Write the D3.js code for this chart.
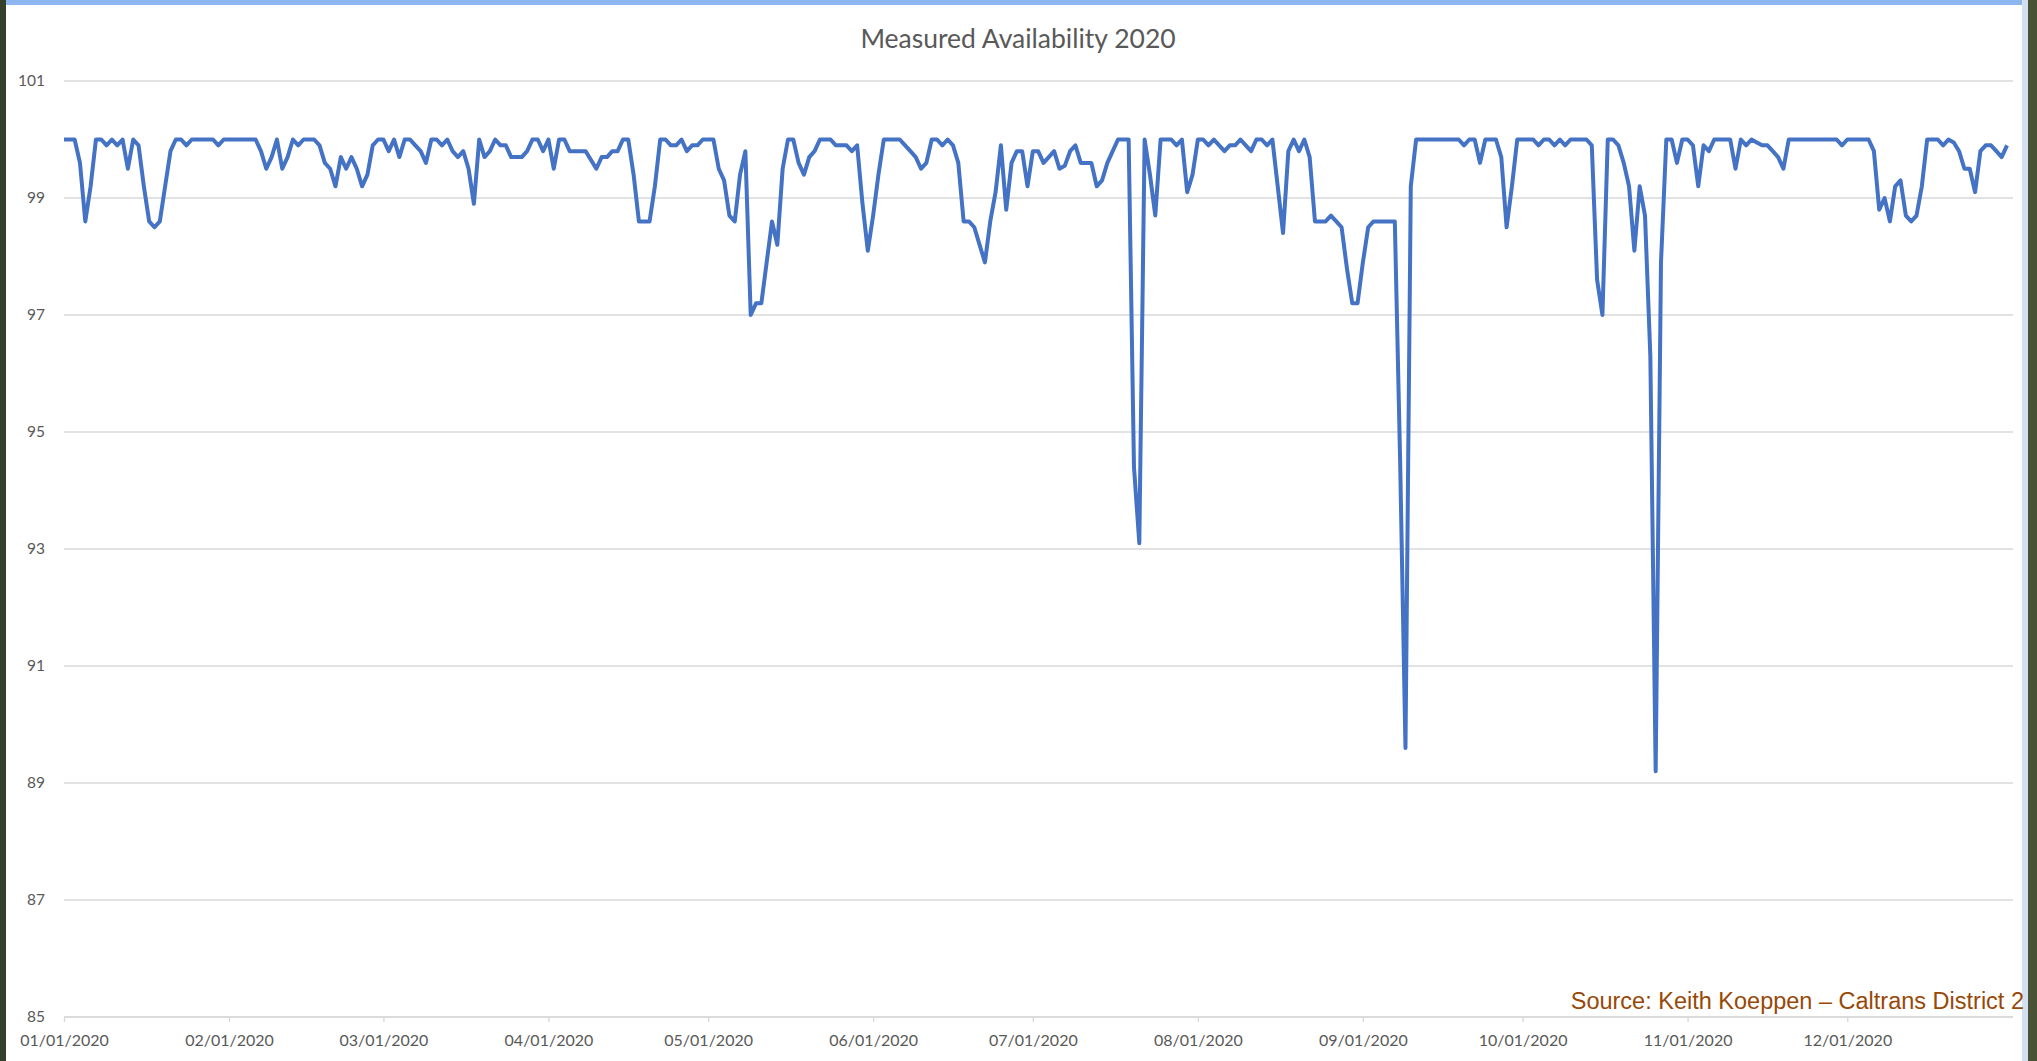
<!DOCTYPE html>
<html>
<head>
<meta charset="utf-8">
<script src="https://cdn.jsdelivr.net/npm/d3@7"></script>
<style>
  body { margin: 0; background: #ffffff; overflow: hidden; }
</style>
</head>
<body>
<script>
/*
  Daily measured availability (%), one array per month of 2020
*/
var jan = [100, 100, 100, 99.6, 98.6, 99.2, 100, 100, 99.9, 100, 99.9, 100, 99.5, 100, 99.9, 99.2,
           98.6, 98.5, 98.6, 99.2, 99.8, 100, 100, 99.9, 100, 100, 100, 100, 100, 99.9, 100];
var feb = [100, 100, 100, 100, 100, 100, 99.8, 99.5, 99.7, 100, 99.5, 99.7, 100, 99.9, 100, 100,
           100, 99.9, 99.6, 99.5, 99.2, 99.7, 99.5, 99.7, 99.5, 99.2, 99.4, 99.9, 100];
var mar = [100, 99.8, 100, 99.7, 100, 100, 99.9, 99.8, 99.6, 100, 100, 99.9, 100, 99.8, 99.7, 99.8,
           99.5, 98.9, 100, 99.7, 99.8, 100, 99.9, 99.9, 99.7, 99.7, 99.7, 99.8, 100, 100, 99.8];
var apr = [100, 99.5, 100, 100, 99.8, 99.8, 99.8, 99.8, 99.65, 99.5, 99.7, 99.7, 99.8, 99.8, 100,
           100, 99.4, 98.6, 98.6, 98.6, 99.2, 100, 100, 99.9, 99.9, 100, 99.8, 99.9, 99.9, 100];
var may = [100, 100, 99.5, 99.3, 98.7, 98.6, 99.4, 99.8, 97.0, 97.2, 97.2, 97.9, 98.6, 98.2, 99.5,
           100, 100, 99.6, 99.4, 99.7, 99.8, 100, 100, 100, 99.9, 99.9, 99.9, 99.8, 99.9, 98.9, 98.1];
var jun = [98.7, 99.4, 100, 100, 100, 100, 99.9, 99.8, 99.7, 99.5, 99.6, 100, 100, 99.9, 100, 99.9,
           99.6, 98.6, 98.6, 98.5, 98.2, 97.9, 98.6, 99.1, 99.9, 98.8, 99.6, 99.8, 99.8, 99.2];
var jul = [99.8, 99.8, 99.6, 99.7, 99.8, 99.5, 99.55, 99.8, 99.9, 99.6, 99.6, 99.6, 99.2, 99.3, 99.6,
           99.8, 100, 100, 100, 94.4, 93.1, 100, 99.4, 98.7, 100, 100, 100, 99.9, 100, 99.1, 99.4];
var aug = [100, 100, 99.9, 100, 99.9, 99.8, 99.9, 99.9, 100, 99.9, 99.8, 100, 100, 99.9, 100, 99.2,
           98.4, 99.8, 100, 99.8, 100, 99.7, 98.6, 98.6, 98.6, 98.7, 98.6, 98.5, 97.8, 97.2, 97.2];
var sep = [97.9, 98.5, 98.6, 98.6, 98.6, 98.6, 98.6, 94.5, 89.6, 99.2, 100, 100, 100, 100, 100, 100,
           100, 100, 100, 99.9, 100, 100, 99.6, 100, 100, 100, 99.7, 98.5, 99.2, 100];
var oct = [100, 100, 100, 99.9, 100, 100, 99.9, 100, 99.9, 100, 100, 100, 100, 99.9, 97.6, 97.0,
           100, 100, 99.9, 99.6, 99.2, 98.1, 99.2, 98.7, 96.3, 89.2, 97.9, 100, 100, 99.6, 100];
var nov = [100, 99.9, 99.2, 99.9, 99.8, 100, 100, 100, 100, 99.5, 100, 99.9, 100, 99.95, 99.9, 99.9,
           99.8, 99.7, 99.5, 100, 100, 100, 100, 100, 100, 100, 100, 100, 100, 99.9];
var dec = [100, 100, 100, 100, 100, 99.8, 98.8, 99.0, 98.6, 99.2, 99.3, 98.7, 98.6, 98.7, 99.2, 100,
           100, 100, 99.9, 100, 99.95, 99.8, 99.5, 99.5, 99.1, 99.8, 99.9, 99.9, 99.8, 99.7, 99.9];

var months = [jan, feb, mar, apr, may, jun, jul, aug, sep, oct, nov, dec];
var monthLabels = ["01/01/2020", "02/01/2020", "03/01/2020", "04/01/2020", "05/01/2020", "06/01/2020",
                   "07/01/2020", "08/01/2020", "09/01/2020", "10/01/2020", "11/01/2020", "12/01/2020"];
var yTicks = [85, 87, 89, 91, 93, 95, 97, 99, 101];

var chartTitle = "Measured Availability 2020";
var sourceNote = "Source: Keith Koeppen \u2013 Caltrans District 2";

/*
  Build one row per day
*/
var data = [];
months.forEach(function (vals, m) {
  vals.forEach(function (v, i) {
    data.push({ date: new Date(2020, m, i + 1), value: v });
  });
});

var W = 2037, H = 1061;

var svg = d3.select("body")
  .append("svg")
    .attr("width", W)
    .attr("height", H);

/* photo edges round the slide */
svg.append("rect").attr("x", 0).attr("y", 0).attr("width", W).attr("height", 5).attr("fill", "#8db5ef");
svg.append("rect").attr("x", 0).attr("y", 0).attr("width", 6).attr("height", H).attr("fill", "#34402a");
svg.append("rect").attr("x", 2022).attr("y", 0).attr("width", 6).attr("height", H).attr("fill", "#d3e0f0");
svg.append("rect").attr("x", 2028).attr("y", 0).attr("width", 9).attr("height", H).attr("fill", "#4a5236");

var x = d3.scaleTime()
    .domain([new Date(2020, 0, 1), new Date(2020, 11, 31)])
    .range([64, 2007]);

var y = d3.scaleLinear()
    .domain([85, 101])
    .range([1017, 81]);

/* gridlines */
svg.append("g")
  .selectAll("line")
  .data(yTicks)
  .enter()
  .append("line")
    .attr("x1", 64)
    .attr("x2", 2013)
    .attr("y1", function (d) { return y(d); })
    .attr("y2", function (d) { return y(d); })
    .attr("stroke", "#d9d9d9")
    .attr("stroke-width", 1.4);

/* y axis labels */
var yAxis = svg.append("g")
    .attr("transform", "translate(64,0)")
    .call(d3.axisLeft(y).tickValues(yTicks).tickSize(0).tickPadding(19).tickFormat(d3.format("d")));
yAxis.select(".domain").remove();
yAxis.selectAll("text")
    .style("font-family", "Lato, 'Open Sans', sans-serif")
    .style("font-size", "15.5px")
    .style("fill", "#595959");

/* x axis */
var monthStarts = d3.range(12).map(function (m) { return new Date(2020, m, 1); });
var xAxis = svg.append("g")
    .attr("transform", "translate(0,1017)")
    .call(d3.axisBottom(x)
      .tickValues(monthStarts)
      .tickSize(5)
      .tickPadding(13)
      .tickFormat(function (d, i) { return monthLabels[i]; }));
xAxis.select(".domain").attr("stroke", "#d9d9d9").attr("stroke-width", 1.4)
    .attr("d", "M64,0H2013");
xAxis.selectAll(".tick line").attr("stroke", "#d9d9d9").attr("stroke-width", 1.4);
xAxis.selectAll("text")
    .style("font-family", "Lato, 'Open Sans', sans-serif")
    .style("font-size", "16px")
    .style("fill", "#595959");

/* the series */
var line = d3.line()
    .x(function (d) { return x(d.date); })
    .y(function (d) { return y(d.value); });

svg.append("path")
  .datum(data)
    .attr("d", line)
    .attr("fill", "none")
    .attr("stroke", "#4472c4")
    .attr("stroke-width", 4)
    .attr("stroke-linejoin", "round");

/* title and source */
svg.append("text")
    .attr("x", 1018)
    .attr("y", 48)
    .attr("text-anchor", "middle")
    .style("font-family", "Lato, 'Open Sans', sans-serif")
    .style("font-size", "26.5px")
    .style("fill", "#595959")
    .text(chartTitle);

svg.append("text")
    .attr("x", 2024)
    .attr("y", 1009)
    .attr("text-anchor", "end")
    .style("font-family", "'Liberation Sans', Arial, sans-serif")
    .style("font-size", "23.5px")
    .style("fill", "#984807")
    .text(sourceNote);
</script>
</body>
</html>
